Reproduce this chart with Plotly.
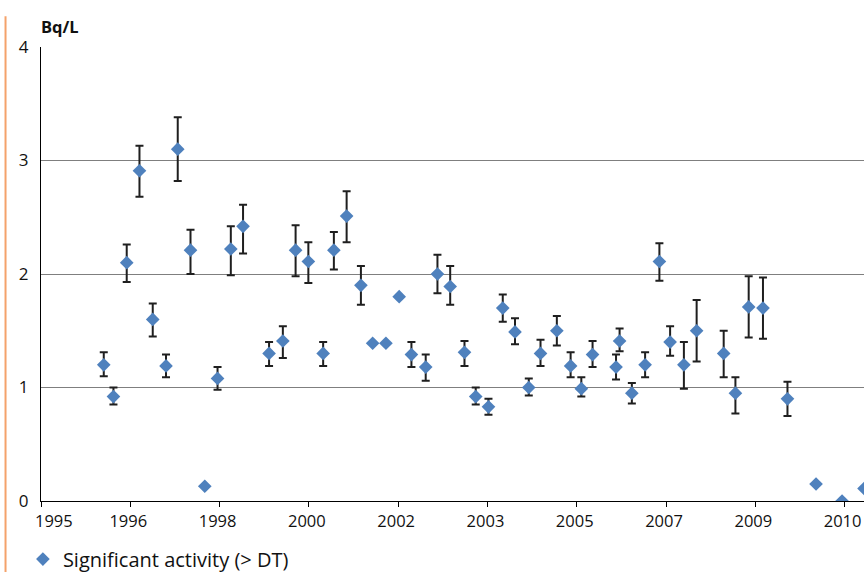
import plotly.graph_objects as go

# ---- data ----
dates = [1996.23, 1996.42, 1996.68, 1996.93, 1997.19, 1997.45, 1997.68, 1997.93,
         1998.21, 1998.46, 1998.72, 1998.96, 1999.47, 1999.74, 1999.99, 2000.24,
         2000.53, 2000.74, 2000.99, 2001.27, 2001.50, 2001.76, 2002.02, 2002.26,
         2002.54, 2002.77, 2003.02, 2003.30, 2003.52, 2003.77, 2004.05, 2004.29,
         2004.56, 2004.79, 2005.11, 2005.38, 2005.59, 2005.81, 2006.27, 2006.34,
         2006.58, 2006.84, 2007.12, 2007.33, 2007.60, 2007.85, 2008.38, 2008.61,
         2008.87, 2009.15, 2009.63, 2010.19, 2010.70, 2011.13]
activity = [1.20, 0.92, 2.10, 2.91, 1.60, 1.19, 3.10, 2.21,
            0.13, 1.08, 2.22, 2.42, 1.30, 1.41, 2.21, 2.11,
            1.30, 2.21, 2.51, 1.90, 1.39, 1.39, 1.80, 1.29,
            1.18, 2.00, 1.89, 1.31, 0.92, 0.83, 1.70, 1.49,
            1.00, 1.30, 1.50, 1.19, 0.99, 1.29, 1.18, 1.41,
            0.95, 1.20, 2.11, 1.40, 1.20, 1.50, 1.30, 0.95,
            1.71, 1.70, 0.90, 0.15, 0.00, 0.11]
upper = [1.31, 1.00, 2.26, 3.13, 1.74, 1.29, 3.38, 2.39,
         None, 1.18, 2.42, 2.61, 1.40, 1.54, 2.43, 2.28,
         1.40, 2.37, 2.73, 2.07, None, None, None, 1.40,
         1.29, 2.17, 2.07, 1.41, 1.00, 0.90, 1.82, 1.61,
         1.08, 1.42, 1.63, 1.31, 1.09, 1.41, 1.29, 1.52,
         1.04, 1.31, 2.27, 1.54, 1.40, 1.77, 1.50, 1.09,
         1.98, 1.97, 1.05, None, None, None]
lower = [1.10, 0.85, 1.93, 2.68, 1.45, 1.09, 2.82, 2.00,
         None, 0.98, 1.99, 2.18, 1.19, 1.26, 1.98, 1.92,
         1.19, 2.04, 2.28, 1.73, None, None, None, 1.18,
         1.06, 1.83, 1.73, 1.19, 0.85, 0.76, 1.58, 1.38,
         0.93, 1.19, 1.37, 1.09, 0.92, 1.18, 1.07, 1.32,
         0.86, 1.09, 1.94, 1.28, 0.99, 1.23, 1.09, 0.77,
         1.44, 1.43, 0.75, None, None, None]

tick_years = [1995.0, 1996.75, 1998.5, 2000.25, 2002.0, 2003.75, 2005.5, 2007.25, 2009.0, 2010.75]
tick_labels = ["1995", "1996", "1998", "2000", "2002", "2003", "2005", "2007", "2009", "2010"]
y_ticks = [0, 1, 2, 3, 4]
series_name = "Significant activity (> DT)"
unit_label = "Bq/L"

# ---- build ----
BLUE = "#4F81BD"
FONT = "Open Sans"

with_err = [i for i in range(len(dates)) if upper[i] is not None]
no_err = [i for i in range(len(dates)) if upper[i] is None]

fig = go.Figure()
fig.add_trace(go.Scatter(
    x=[dates[i] for i in with_err],
    y=[activity[i] for i in with_err],
    mode="markers",
    name=series_name,
    marker=dict(symbol="diamond", size=10.5, color=BLUE),
    error_y=dict(type="data", symmetric=False,
                 array=[upper[i] - activity[i] for i in with_err],
                 arrayminus=[activity[i] - lower[i] for i in with_err],
                 color="#1f1f1f", thickness=2, width=4),
    showlegend=True,
))
fig.add_trace(go.Scatter(
    x=[dates[i] for i in no_err],
    y=[activity[i] for i in no_err],
    mode="markers",
    name=series_name,
    marker=dict(symbol="diamond", size=10.5, color=BLUE),
    showlegend=False,
))

fig.update_layout(
    width=864, height=572,
    margin=dict(l=41, r=0, t=47, b=71, autoexpand=False),
    paper_bgcolor="white", plot_bgcolor="white",
    font=dict(family=FONT, size=16, color="#111111"),
    showlegend=True,
    legend=dict(x=-0.022, y=-0.128, xanchor="left", yanchor="middle",
                orientation="h", font=dict(size=20, family=FONT, color="#111111"),
                bgcolor="rgba(0,0,0,0)"),
    xaxis=dict(range=[1995.0, 2011.13], tickvals=tick_years,
               ticktext=[""] + tick_labels[1:],
               showgrid=False, zeroline=False,
               showline=True, linecolor="black", linewidth=1.3,
               ticks="outside", ticklen=5, tickcolor="black", tickwidth=1.3,
               ticklabelshift=-2,
               tickfont=dict(size=16.5, family=FONT, color="#111111")),
    yaxis=dict(range=[0, 4], tickvals=y_ticks, showgrid=True,
               gridcolor="#7f7f7f", gridwidth=1.2, zeroline=False,
               showline=True, linecolor="black", linewidth=1.3,
               ticks="", ticklabelstandoff=8,
               tickfont=dict(size=17, family=FONT, color="#111111")),
    shapes=[dict(type="line", xref="paper", yref="paper",
                 x0=-0.0431, x1=-0.0431, y0=1.068, y1=-0.16,
                 line=dict(color="#F4A26B", width=2))],
    annotations=[
        dict(text="<b>" + unit_label + "</b>", xref="paper", yref="paper",
             x=0, y=1.046, xanchor="left", yanchor="middle", xshift=-2,
             showarrow=False, font=dict(size=16.5, family=FONT, color="#111111")),
        dict(text=tick_labels[0], xref="x", yref="paper",
             x=tick_years[0], y=0, xanchor="center", yanchor="top",
             xshift=13, yshift=-6, showarrow=False,
             font=dict(size=16.5, family=FONT, color="#111111")),
    ],
)

fig.write_html("out.html",
               config={"displayModeBar": False},
               post_script="document.body.style.margin='0';document.body.style.overflow='hidden';")
